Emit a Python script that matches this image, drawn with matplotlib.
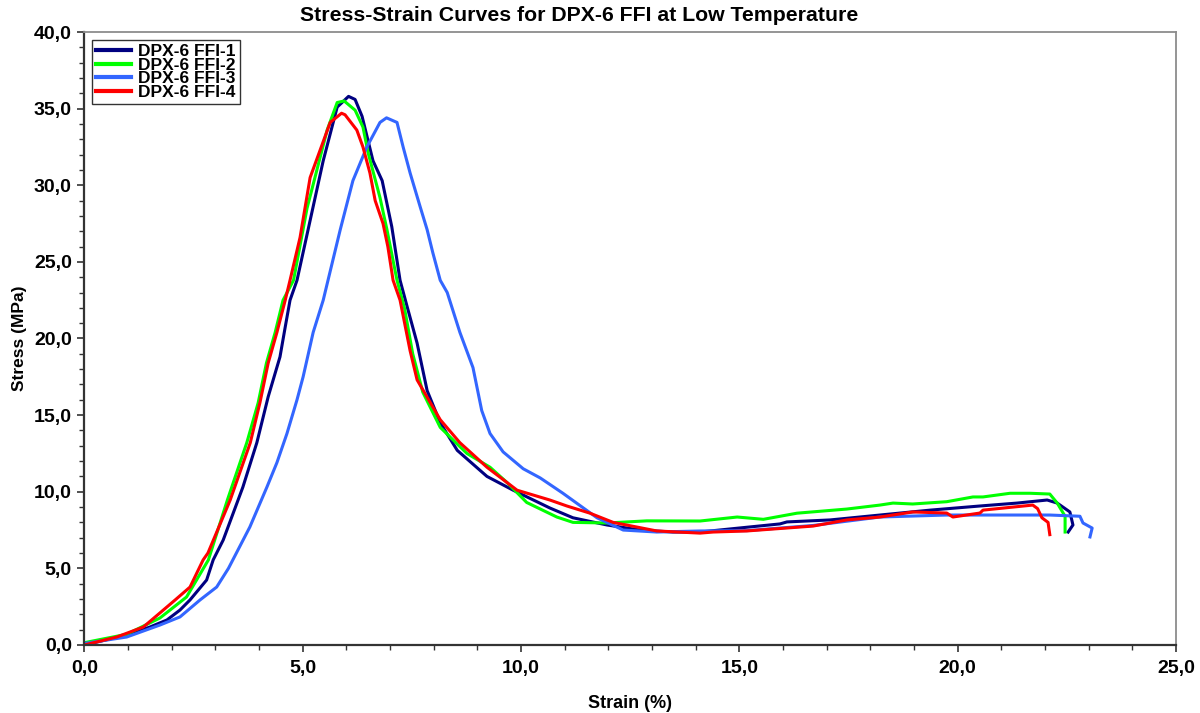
import matplotlib
matplotlib.use("Agg")
import matplotlib.pyplot as plt
from matplotlib.ticker import MultipleLocator, FuncFormatter

plt.rcParams['font.family'] = ['Liberation Sans', 'DejaVu Sans']

# ---- data (strain %, stress MPa) ----
labels = ["DPX-6 FFI-1", "DPX-6 FFI-2", "DPX-6 FFI-3", "DPX-6 FFI-4"]
colors = ["#000080", "#00ff00", "#3366ff", "#ff0000"]

strain1 = [0.0, 0.97, 1.5, 1.89, 2.19, 2.42, 2.8, 2.95, 3.18, 3.63, 3.95, 4.21, 4.48, 4.6, 4.71,
           4.87, 5.17, 5.47, 5.79, 6.05, 6.2, 6.36, 6.61, 6.82, 6.93, 7.04, 7.23, 7.39, 7.62, 7.85,
           8.15, 8.54, 9.22, 9.82, 10.66, 11.19, 11.97, 12.73, 13.48, 14.1, 14.78, 15.93, 16.09,
           17.08, 18.22, 19.37, 20.51, 21.36, 22.05, 22.28, 22.57, 22.64, 22.53]
stress1 = [0.0, 0.65, 1.17, 1.63, 2.28, 2.94, 4.24, 5.55, 6.85, 10.3, 13.2, 16.2, 18.8, 20.75, 22.5,
           23.8, 27.7, 31.6, 35.1, 35.8, 35.6, 34.5, 31.6, 30.3, 28.8, 27.3, 23.8, 22.1, 19.7, 16.6,
           14.5, 12.7, 11.0, 10.1, 8.94, 8.3, 7.83, 7.5, 7.37, 7.37, 7.57, 7.9, 8.03,
           8.16, 8.48, 8.8, 9.07, 9.26, 9.46, 9.26, 8.68, 7.83, 7.37]

strain2 = [0.0, 0.97, 1.73, 2.34, 2.84, 3.28, 3.72, 3.98, 4.17, 4.37, 4.55, 4.79, 5.1, 5.56, 5.79,
           5.95, 6.2, 6.38, 6.5, 6.77, 6.93, 7.16, 7.33, 7.52, 7.75, 8.15, 8.76, 9.29, 9.68, 10.13,
           10.82, 11.19, 11.97, 12.88, 14.1, 14.95, 15.55, 16.32, 17.46, 18.22, 18.52, 18.97, 19.75,
           20.35, 20.58, 21.2, 21.66, 22.11, 22.28, 22.46, 22.46]
stress2 = [0.15, 0.7, 1.76, 3.13, 5.55, 9.5, 13.2, 15.8, 18.4, 20.4, 22.5, 23.8, 28.5, 33.6, 35.4,
           35.5, 34.9, 33.8, 32.1, 29.2, 27.1, 23.8, 22.0, 19.0, 16.5, 14.2, 12.5, 11.6, 10.6, 9.3,
           8.35, 8.0, 7.96, 8.1, 8.09, 8.35, 8.2, 8.6, 8.87, 9.13, 9.26, 9.2, 9.35,
           9.66, 9.66, 9.9, 9.9, 9.85, 9.26, 8.4, 7.37]

strain3 = [0.0, 0.97, 1.73, 2.19, 2.65, 3.03, 3.3, 3.79, 4.18, 4.41, 4.64, 4.87, 5.01, 5.24, 5.47,
           5.58, 5.86, 6.15, 6.47, 6.77, 6.92, 7.16, 7.3, 7.46, 7.69, 7.85, 7.98, 8.15, 8.31, 8.6,
           8.9, 9.1, 9.29, 9.59, 10.05, 10.44, 10.96, 11.35, 11.74, 12.34, 13.11, 14.1, 15.17,
           16.69, 18.22, 19.75, 20.51, 22.11, 22.8, 22.87, 23.08, 23.03]
stress3 = [0.1, 0.52, 1.3, 1.83, 2.94, 3.78, 5.0, 7.7, 10.3, 11.9, 13.8, 16.0, 17.5, 20.4, 22.5,
           23.8, 27.1, 30.3, 32.5, 34.1, 34.4, 34.1, 32.5, 30.8, 28.6, 27.1, 25.6, 23.8, 23.0, 20.4,
           18.1, 15.3, 13.8, 12.6, 11.5, 10.9, 9.9, 9.1, 8.3, 7.5, 7.37, 7.44, 7.46,
           7.8, 8.35, 8.48, 8.48, 8.48, 8.4, 7.96, 7.63, 7.05]

strain4 = [0.0, 0.74, 1.35, 1.73, 2.08, 2.42, 2.72, 2.83, 3.34, 3.8, 4.02, 4.21, 4.41, 4.6, 4.71,
           4.94, 5.17, 5.63, 5.89, 5.97, 6.24, 6.38, 6.54, 6.66, 6.84, 6.95, 7.07, 7.23, 7.46, 7.62,
           8.15, 8.6, 9.22, 9.91, 10.66, 11.05, 11.58, 12.11, 13.11, 14.1, 14.4, 15.17, 16.69,
           17.46, 18.22, 18.97, 19.75, 19.89, 20.51, 20.58, 21.72, 21.83, 21.93, 22.07, 22.11]
stress4 = [0.0, 0.52, 1.17, 2.09, 2.94, 3.78, 5.55, 6.0, 9.46, 13.2, 15.8, 18.4, 20.4, 22.5, 23.8,
           26.6, 30.5, 34.1, 34.7, 34.6, 33.6, 32.5, 30.8, 29.0, 27.5, 26.0, 23.8, 22.5, 19.2, 17.3,
           14.7, 13.2, 11.6, 10.1, 9.46, 9.07, 8.6, 8.0, 7.44, 7.3, 7.37, 7.44, 7.76,
           8.16, 8.35, 8.68, 8.61, 8.35, 8.61, 8.8, 9.13, 8.9, 8.3, 8.0, 7.2]

series_x = [strain1, strain2, strain3, strain4]
series_y = [stress1, stress2, stress3, stress4]

title = "Stress-Strain Curves for DPX-6 FFI at Low Temperature"
xlabel = "Strain (%)"
ylabel = "Stress (MPa)"

# ---- figure ----
fig = plt.figure(figsize=(12, 7.13), dpi=100)
ax = fig.add_axes([0.0703, 0.0954, 0.9097, 0.8597])

for xs, ys, c, lab in zip(series_x, series_y, colors, labels):
    ax.plot(xs, ys, color=c, lw=2.2, label=lab, solid_joinstyle='round')

ax.set_xlim(0, 25)
ax.set_ylim(0, 40)
ax.xaxis.set_major_locator(MultipleLocator(5))
ax.xaxis.set_minor_locator(MultipleLocator(1))
ax.yaxis.set_major_locator(MultipleLocator(5))
ax.yaxis.set_minor_locator(MultipleLocator(1))
fmt = FuncFormatter(lambda v, p: f"{v:.1f}".replace('.', ','))
ax.xaxis.set_major_formatter(fmt)
ax.yaxis.set_major_formatter(fmt)

ax.tick_params(which='major', direction='out', length=5, width=1.2, color='#333333',
               labelsize=14, pad=4)
ax.tick_params(which='minor', direction='out', length=3.5, width=1.0, color='#333333')
for lab in ax.get_xticklabels() + ax.get_yticklabels():
    lab.set_fontweight('bold')
ax.tick_params(axis='x', pad=6)

for s in ['left', 'bottom']:
    ax.spines[s].set_color('#333333')
    ax.spines[s].set_linewidth(1.6)
for s in ['top', 'right']:
    ax.spines[s].set_color('#8c8c8c')
    ax.spines[s].set_linewidth(1.3)

fig.text(0.4825, 0.9776, title, fontsize=15.3, fontweight='bold', ha='center', va='center')
ax.set_xlabel(xlabel, fontsize=13, fontweight='bold', labelpad=13)
ax.set_ylabel(ylabel, fontsize=12.5, fontweight='bold', labelpad=5)

leg = ax.legend(loc='upper left', bbox_to_anchor=(0.007, 0.987), borderaxespad=0,
                fancybox=False, frameon=True, edgecolor='black',
                prop={'weight': 'bold', 'size': 12.5}, handlelength=2.0, labelspacing=-0.1,
                borderpad=0.25, handletextpad=0.4)
leg.get_frame().set_linewidth(1.0)
for line in leg.get_lines():
    line.set_linewidth(3.0)

fig.savefig("out.png", dpi=100)
